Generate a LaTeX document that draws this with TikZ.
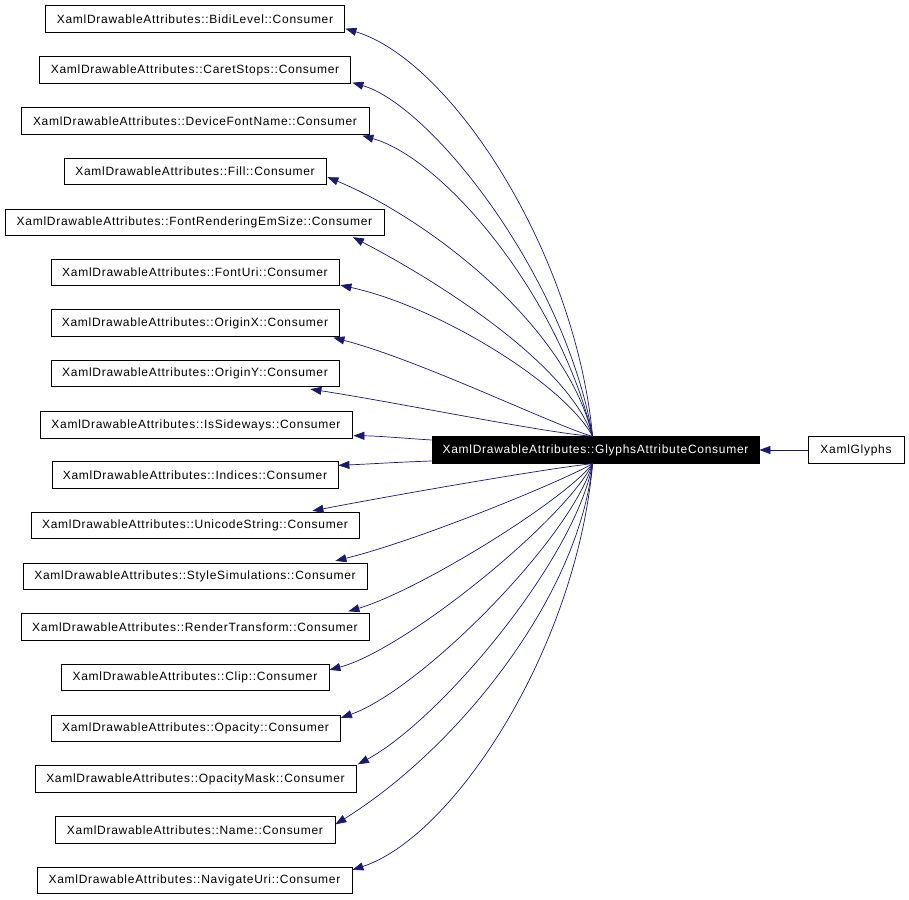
\documentclass[tikz,border=0pt]{standalone}
\usepackage{fontspec}
\setmainfont{Liberation Sans}[LetterSpace=6]
\usetikzlibrary{arrows.meta,calc}
\definecolor{edgeblue}{RGB}{25,25,112}
\begin{document}
\begin{tikzpicture}[x=1pt,y=-1pt,
  cls/.style={draw=black,line width=0.8pt,fill=white,minimum height=26.5pt,inner sep=0pt,font=\fontsize{12}{14}\selectfont},
  edge/.style={draw=edgeblue,line width=0.7pt,-{Triangle[length=11pt,width=8pt]}}]
\useasboundingbox (0,0) rectangle (909,899);
\fill[white] (0,0) rectangle (909,899);

\node[cls,minimum width=299pt] (b1) at (195,19) {XamlDrawableAttributes::BidiLevel::Consumer};
\node[cls,minimum width=311pt] (b2) at (195,70) {XamlDrawableAttributes::CaretStops::Consumer};
\node[cls,minimum width=348pt] (b3) at (195,121) {XamlDrawableAttributes::DeviceFontName::Consumer};
\node[cls,minimum width=262pt] (b4) at (195,171.5) {XamlDrawableAttributes::Fill::Consumer};
\node[cls,minimum width=379pt] (b5) at (194.5,222.5) {XamlDrawableAttributes::FontRenderingEmSize::Consumer};
\node[cls,minimum width=288pt] (b6) at (195,272.5) {XamlDrawableAttributes::FontUri::Consumer};
\node[cls,minimum width=288pt] (b7) at (195,323) {XamlDrawableAttributes::OriginX::Consumer};
\node[cls,minimum width=288pt] (b8) at (195,373.5) {XamlDrawableAttributes::OriginY::Consumer};
\node[cls,minimum width=312pt] (b9) at (196,425) {XamlDrawableAttributes::IsSideways::Consumer};
\node[cls,minimum width=286pt] (b10) at (195,475) {XamlDrawableAttributes::Indices::Consumer};
\node[cls,minimum width=328pt] (b11) at (195,525.5) {XamlDrawableAttributes::UnicodeString::Consumer};
\node[cls,minimum width=344pt] (b12) at (195,576.5) {XamlDrawableAttributes::StyleSimulations::Consumer};
\node[cls,minimum width=348pt] (b13) at (195,627) {XamlDrawableAttributes::RenderTransform::Consumer};
\node[cls,minimum width=268pt] (b14) at (195,677.5) {XamlDrawableAttributes::Clip::Consumer};
\node[cls,minimum width=289pt] (b15) at (195.5,728.5) {XamlDrawableAttributes::Opacity::Consumer};
\node[cls,minimum width=321pt] (b16) at (195.5,779) {XamlDrawableAttributes::OpacityMask::Consumer};
\node[cls,minimum width=280pt] (b17) at (195,830) {XamlDrawableAttributes::Name::Consumer};
\node[cls,minimum width=315pt] (b18) at (194.5,880.5) {XamlDrawableAttributes::NavigateUri::Consumer};

\node[cls,fill=black,text=white,minimum width=327pt] (gac) at (595.5,450) {XamlDrawableAttributes::GlyphsAttributeConsumer};
\node[cls,minimum width=96pt] (xg) at (856,450) {XamlGlyphs};

\coordinate (gt) at ($(gac.north west)+(161,0)$);
\coordinate (gb) at ($(gac.south west)+(161,0)$);
\coordinate (gl1) at ($(gac.west)+(0,-10)$);
\coordinate (gl2) at ($(gac.west)+(0,11)$);

\draw[edge] (xg) -- (gac);

\draw[edge] (gt) .. controls (575,250) and (450,60) .. ($(b1.south east)+(0.5,-4)$);
\draw[edge] (gt) .. controls (565,274) and (430,105) .. ($(b2.south east)+(1.5,-1)$);
\draw[edge] (gt) .. controls (560,298) and (445,159) .. ($(b3.south east)+(-7,1)$);
\draw[edge] (gt) .. controls (565,320) and (420,215) .. ($(b4.south east)+(1,-8)$);
\draw[edge] (gt) .. controls (565,357) and (420,272) .. ($(b5.south east)+(-31.5,1)$);
\draw[edge] (gt) .. controls (565,385) and (440,307) .. ($(b6.south east)+(1,-1)$);
\draw[edge] (gt) .. controls (560,428) and (420,360) .. ($(b7.south east)+(-6,1)$);
\draw[edge] (gt) .. controls (540,432) and (400,403) .. ($(b8.south east)+(-29,2)$);
\draw[edge] (gl1) .. controls (400,438) and (380,436) .. ($(b9.south east)+(1,-3)$);
\draw[edge] (gl2) .. controls (400,462) and (370,464) .. ($(b10.north east)+(0,4)$);

\draw[edge] (gb) .. controls (550,468) and (400,494) .. ($(b11.north east)+(-47,-1)$);
\draw[edge] (gb) .. controls (565,480) and (420,540) .. ($(b12.north east)+(-32,-2)$);
\draw[edge] (gb) .. controls (565,500) and (420,590) .. ($(b13.north east)+(-21,-2)$);
\draw[edge] (gb) .. controls (565,520) and (405,650) .. ($(b14.north east)+(0,6)$);
\draw[edge] (gb) .. controls (570,540) and (420,690) .. ($(b15.north east)+(0.5,3)$);
\draw[edge] (gb) .. controls (575,560) and (440,720) .. ($(b16.north east)+(1.5,-1)$);
\draw[edge] (gb) .. controls (578,600) and (455,750) .. ($(b17.north east)+(0,8)$);
\draw[edge] (gb) .. controls (576,650) and (453,837) .. ($(b18.north east)+(0,3)$);
\end{tikzpicture}
\end{document}
